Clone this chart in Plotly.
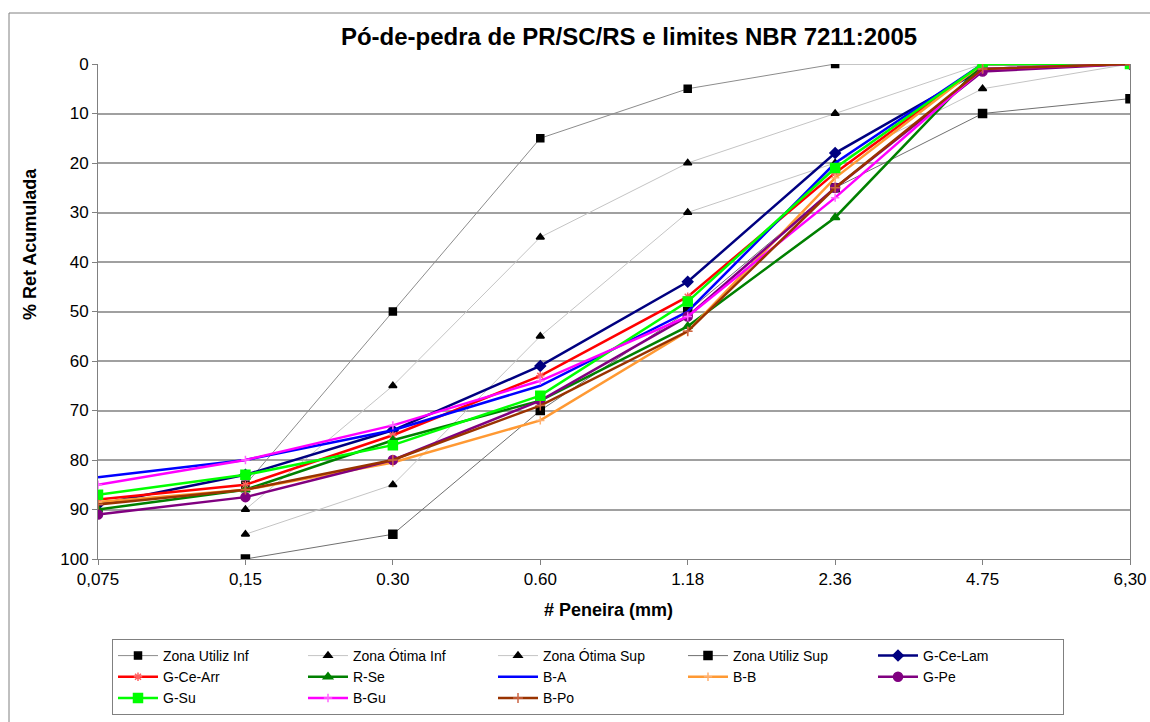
import plotly.graph_objects as go

# ---------------- DATA ----------------
sieves = ["0,075", "0,15", "0.30", "0.60", "1.18", "2.36", "4.75", "6,30"]

zona_utiliz_inf = [None, 85, 50, 15, 5, 0, 0, 0]
zona_otima_inf = [None, 90, 65, 35, 20, 10, 0, 0]
zona_otima_sup = [None, 95, 85, 55, 30, 20, 5, 0]
zona_utiliz_sup = [None, 100, 95, 70, 50, 25, 10, 7]

g_ce_lam = [89, 83, 74, 61, 44, 18, 1, 0]
g_ce_arr = [88, 85, 75, 63, 47, 22, 0, 0]
r_se = [90, 86, 76, 68, 53, 31, 0, 0]
b_a = [83.5, 80, 74, 65, 50, 20, 0, 0]
b_b = [88.5, 86, 80.5, 72, 54, 23, 0, 0]
g_pe = [91, 87.5, 80, 68, 51, 25, 1.5, 0]
g_su = [87, 83, 77, 67, 48, 21, 0, 0]
b_gu = [85, 80, 73, 64, 51, 27, 1, 0]
b_po = [89, 86, 80, 69, 54, 25, 1, 0]

title_text = "Pó-de-pedra de PR/SC/RS e limites NBR 7211:2005"
y_title = "% Ret Acumulada"
x_title = "# Peneira (mm)"
y_ticks = [0, 10, 20, 30, 40, 50, 60, 70, 80, 90, 100]

FONT = "Liberation Sans, Arial, sans-serif"

series = [
    ("Zona Utiliz Inf", zona_utiliz_inf, "#8c8c8c", 1, "square", 7, "black"),
    ("Zona Ótima Inf", zona_otima_inf, "#c4c4c4", 1, "triangle-up", 7, "black"),
    ("Zona Ótima Sup", zona_otima_sup, "#c4c4c4", 1, "triangle-up", 7, "black"),
    ("Zona Utiliz Sup", zona_utiliz_sup, "#707070", 1, "square", 8, "black"),
    ("G-Ce-Lam", g_ce_lam, "#000080", 2.5, "diamond", 8, "#000080"),
    ("G-Ce-Arr", g_ce_arr, "#ff0000", 2.5, "asterisk-open", 7, "#ff6060"),
    ("R-Se", r_se, "#008000", 2.5, "triangle-up", 8, "#008000"),
    ("B-A", b_a, "#0000ff", 2.5, None, 0, None),
    ("B-B", b_b, "#ff9933", 2.5, "cross-thin-open", 6, "#ffb070"),
    ("G-Pe", g_pe, "#800080", 2.5, "circle", 9, "#800080"),
    ("G-Su", g_su, "#00ff00", 2.5, "square", 9, "#00ff00"),
    ("B-Gu", b_gu, "#ff00ff", 2.5, "cross-thin-open", 6, "#ff66ff"),
    ("B-Po", b_po, "#993300", 2.5, "cross-thin-open", 7, "#cc6644"),
]

fig = go.Figure()
for name, vals, color, width, sym, size, mcolor in series:
    if sym is None:
        mode = "lines"
        marker = None
    else:
        mode = "lines+markers"
        marker = dict(symbol=sym, size=size, color=mcolor,
                      line=dict(color=mcolor, width=1.5))
    fig.add_trace(go.Scatter(
        x=sieves, y=vals, name=name, mode=mode,
        line=dict(color=color, width=width),
        marker=marker, connectgaps=False,
    ))

W, H = 1150, 722
L, R, T, B = 98, 20, 64, 163
pw, ph = W - L - R, H - T - B

def px_to_paper_x(px):
    return (px - L) / pw

def px_to_paper_y(py):
    return (H - B - py) / ph

fig.update_layout(
    width=W, height=H,
    margin=dict(l=L, r=R, t=T, b=B, pad=0, autoexpand=False),
    paper_bgcolor="white", plot_bgcolor="white",
    font=dict(family=FONT, color="black", size=16),
    title=dict(text="<b>" + title_text + "</b>", x=629 / W, xanchor="center",
               y=1 - 37 / H, yanchor="middle",
               font=dict(family=FONT, size=24, color="black")),
    showlegend=True,
    legend=dict(
        orientation="h", x=px_to_paper_x(112), xanchor="left",
        y=px_to_paper_y(639), yanchor="top",
        bgcolor="white", bordercolor="#808080", borderwidth=1,
        font=dict(family=FONT, size=14, color="black"),
        itemwidth=40, entrywidth=135, entrywidthmode="pixels",
        traceorder="normal",
    ),
    xaxis=dict(
        type="category", range=[0, len(sieves) - 1],
        showgrid=False, showline=True, linecolor="#808080", linewidth=1,
        ticks="outside", ticklen=5, tickcolor="#808080",
        ticklabelstandoff=0,
        tickfont=dict(family=FONT, size=17, color="black"),
        zeroline=False, fixedrange=True,
    ),
    yaxis=dict(
        range=[100, 0], tickvals=y_ticks,
        showgrid=True, gridcolor="#a0a0a0", gridwidth=1.5,
        showline=True, linecolor="#808080", linewidth=1, mirror=True,
        ticks="outside", ticklen=5, tickcolor="#808080",
        tickfont=dict(family=FONT, size=17, color="black"),
        zeroline=False, fixedrange=True,
    ),
    annotations=[
        dict(text="<b>" + y_title + "</b>", xref="paper", yref="paper",
             x=px_to_paper_x(30), y=px_to_paper_y(244), textangle=-90,
             showarrow=False, xanchor="center", yanchor="middle",
             font=dict(family=FONT, size=18, color="black")),
        dict(text="<b>" + x_title + "</b>", xref="paper", yref="paper",
             x=px_to_paper_x(608), y=px_to_paper_y(610),
             showarrow=False, xanchor="center", yanchor="middle",
             font=dict(family=FONT, size=18, color="black")),
    ],
    shapes=[
        dict(type="rect", xref="paper", yref="paper",
             x0=px_to_paper_x(9), x1=px_to_paper_x(1200),
             y0=px_to_paper_y(800), y1=px_to_paper_y(13),
             line=dict(color="#808080", width=1), layer="below"),
    ],
)

fig.write_html("out.html", config={"displayModeBar": False})
